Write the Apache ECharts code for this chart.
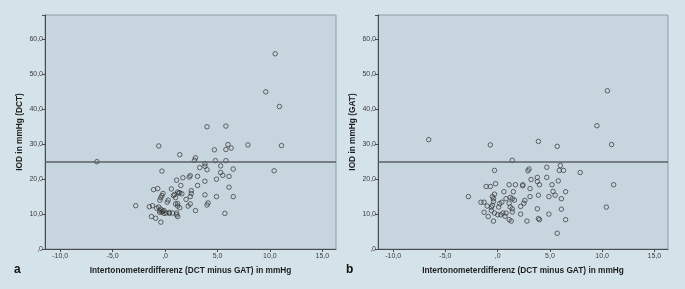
<!DOCTYPE html>
<html>
<head>
<meta charset="utf-8">
<title>IOD vs. Intertonometerdifferenz</title>
<script src="https://cdn.jsdelivr.net/npm/echarts@6/dist/echarts.min.js"></script>
<style>
  html, body { margin: 0; padding: 0; background: #d4e2e9; }
  #chart { width: 685px; height: 289px; }
</style>
</head>
<body>
<div id="chart"></div>
<script>
// Werte: [Differenz DCT-GAT, IOD]
const dctPoints = [
  [-6.5, 25.0], [-2.8, 12.4], [-1.5, 12.1], [-1.2, 12.4], [-1.3, 9.3], [-1.1, 17.0],
  [-0.9, 8.8], [-0.8, 11.7], [-0.7, 17.3], [-0.6, 29.5], [-0.6, 12.0], [-0.5, 11.0],
  [-0.5, 10.5], [-0.5, 14.0], [-0.4, 14.7], [-0.4, 7.7], [-0.4, 11.4], [-0.3, 22.3],
  [-0.3, 15.3], [-0.3, 10.6], [-0.2, 15.9], [-0.2, 10.8], [-0.1, 11.0], [-0.1, 10.2],
  [0.1, 10.3], [0.2, 13.4], [0.3, 14.0], [0.4, 10.5], [0.4, 10.2], [0.6, 17.2],
  [0.7, 10.3], [0.8, 15.3], [0.9, 15.6], [1.0, 14.7], [1.0, 12.9], [1.1, 10.3],
  [1.1, 9.8], [1.2, 9.3], [1.1, 19.7], [1.2, 16.3], [1.2, 13.0], [1.2, 12.3],
  [1.3, 16.0], [1.4, 16.1], [1.4, 11.8], [1.4, 27.0], [1.5, 18.2], [1.6, 15.8],
  [1.7, 20.4], [2.0, 14.2], [2.2, 12.3], [2.4, 21.0], [2.3, 20.6], [2.4, 15.0],
  [2.4, 12.9], [2.5, 16.7], [2.5, 15.9], [2.8, 25.4], [2.9, 26.1], [2.9, 11.0],
  [3.1, 20.8], [3.1, 18.2], [3.3, 23.3], [3.8, 24.4], [3.8, 23.7], [3.8, 19.4],
  [3.8, 15.5], [4.0, 22.7], [4.0, 12.6], [4.0, 35.0], [4.1, 13.2], [4.7, 28.4],
  [4.8, 25.3], [4.9, 20.0], [4.9, 15.0], [5.3, 23.8], [5.3, 21.9], [5.5, 21.1],
  [5.7, 10.2], [5.8, 35.2], [5.8, 25.3], [5.8, 28.5], [6.0, 29.9], [6.1, 20.8],
  [6.1, 17.7], [6.3, 28.9], [6.5, 22.9], [6.5, 15.0], [7.9, 29.8], [9.6, 45.0],
  [10.4, 22.4], [10.5, 55.9], [10.9, 40.8], [11.1, 29.6]
]
const gatPoints = [
  [-6.6, 31.3], [-2.8, 15.0], [-1.6, 13.4], [-1.3, 13.4], [-1.3, 10.5], [-1.1, 17.9],
  [-1.0, 12.3], [-0.9, 9.3], [-0.7, 17.9], [-0.7, 29.8], [-0.6, 12.0], [-0.6, 11.0],
  [-0.5, 15.0], [-0.5, 12.5], [-0.4, 14.4], [-0.4, 13.6], [-0.4, 8.0], [-0.3, 22.5],
  [-0.3, 15.7], [-0.3, 10.3], [-0.2, 18.7], [0.0, 9.8], [0.1, 12.0], [0.2, 13.0],
  [0.3, 9.8], [0.4, 13.4], [0.5, 10.3], [0.6, 16.4], [0.7, 9.4], [0.8, 10.3],
  [0.8, 14.4], [1.1, 18.4], [1.1, 13.1], [1.1, 8.4], [1.2, 14.8], [1.2, 12.0],
  [1.3, 8.0], [1.4, 14.4], [1.4, 11.5], [1.4, 10.6], [1.4, 25.4], [1.5, 16.4],
  [1.6, 14.0], [1.7, 18.4], [2.2, 12.2], [2.2, 10.0], [2.4, 18.4], [2.4, 18.1],
  [2.5, 13.1], [2.6, 13.9], [2.8, 8.0], [2.9, 22.4], [3.0, 22.9], [3.1, 17.3],
  [3.1, 15.0], [3.2, 19.9], [3.8, 20.5], [3.8, 19.3], [3.8, 11.5], [3.9, 15.4],
  [3.9, 30.8], [3.9, 8.7], [4.0, 18.4], [4.0, 8.4], [4.7, 23.4], [4.7, 20.5],
  [4.9, 15.0], [4.9, 10.0], [5.2, 18.4], [5.3, 16.5], [5.5, 15.4], [5.7, 29.4],
  [5.7, 4.5], [5.8, 19.5], [5.9, 22.5], [6.0, 23.9], [6.1, 14.4], [6.1, 11.4],
  [6.3, 22.5], [6.5, 16.4], [6.5, 8.4], [7.9, 21.9], [9.5, 35.3], [10.4, 12.0],
  [10.5, 45.3], [10.9, 29.9], [11.1, 18.4]
]
const xTicks = [-10, -5, 0, 5, 10, 15]
const refLine = 25 // Referenzlinie bei 25 mmHg
const xTitle = 'Intertonometerdifferenz (DCT minus GAT) in mmHg'
const yTitles = ['IOD in mmHg (DCT)', 'IOD in mmHg (GAT)']
const panelLabels = ['a', 'b']

// SPSS-Zahlenformat: ",0", "10,0", "-5,0"
function fmt(v) {
  if (v === 0) return ',0'
  return v.toFixed(1).replace('.', ',')
}

const axisColor = '#4a4a4a'
const labelStyle = { color: '#3c3c3c', fontSize: 7, fontFamily: 'Liberation Sans' }
const titleStyle = { color: '#1e1e1e', fontSize: 8.3, fontWeight: 'bold', fontFamily: 'Liberation Sans' }
const grids = [
  { left: 45, top: 15, width: 291, height: 234 },
  { left: 378, top: 15, width: 290, height: 234 }
]

function xAxisFor(i) {
  return {
    gridIndex: i,
    type: 'value',
    min: -11.45,
    max: 16.3,
    name: xTitle,
    nameLocation: 'middle',
    nameGap: 18,
    nameTextStyle: titleStyle,
    axisLine: { show: true, onZero: false, lineStyle: { color: axisColor, width: 1 } },
    axisTick: { show: true, length: 3, customValues: xTicks, lineStyle: { color: axisColor } },
    axisLabel: { ...labelStyle, margin: 4, customValues: xTicks, formatter: fmt },
    splitLine: { show: false }
  }
}

function yAxisFor(i) {
  return {
    gridIndex: i,
    type: 'value',
    min: 0,
    max: 67,
    interval: 10,
    name: yTitles[i],
    nameLocation: 'middle',
    nameGap: 21,
    nameTextStyle: titleStyle,
    axisLine: { show: true, onZero: false, lineStyle: { color: axisColor, width: 1 } },
    axisTick: { show: true, length: 3, lineStyle: { color: axisColor } },
    axisLabel: {
      ...labelStyle,
      margin: 2,
      formatter: function(v) { return v > 60 ? '' : fmt(v) }
    },
    splitLine: { show: false }
  }
}

function seriesFor(i, data) {
  return {
    type: 'scatter',
    xAxisIndex: i,
    yAxisIndex: i,
    data: data,
    symbol: 'circle',
    symbolSize: 4.5,
    itemStyle: { color: 'transparent', borderColor: '#333', borderWidth: 0.9 },
    silent: true,
    markLine: {
      silent: true,
      symbol: 'none',
      label: { show: false },
      lineStyle: { color: '#5a5f63', width: 1.5, type: 'solid' },
      data: [{ yAxis: refLine }]
    }
  }
}

const chart = echarts.init(document.getElementById('chart'))
chart.setOption({
  backgroundColor: '#d4e2e9',
  animation: false,
  grid: grids.map(g => ({
    ...g,
    show: true,
    backgroundColor: '#c7d5de',
    borderColor: '#8e9ca6',
    borderWidth: 1
  })),
  xAxis: [xAxisFor(0), xAxisFor(1)],
  yAxis: [yAxisFor(0), yAxisFor(1)],
  series: [seriesFor(0, dctPoints), seriesFor(1, gatPoints)],
  graphic: [
    { type: 'text', left: 14, top: 264, style: { text: panelLabels[0], fontSize: 12, fontWeight: 'bold', fill: '#111', fontFamily: 'Liberation Sans' } },
    { type: 'text', left: 346, top: 264, style: { text: panelLabels[1], fontSize: 12, fontWeight: 'bold', fill: '#111', fontFamily: 'Liberation Sans' } }
  ]
})
</script>
</body>
</html>
